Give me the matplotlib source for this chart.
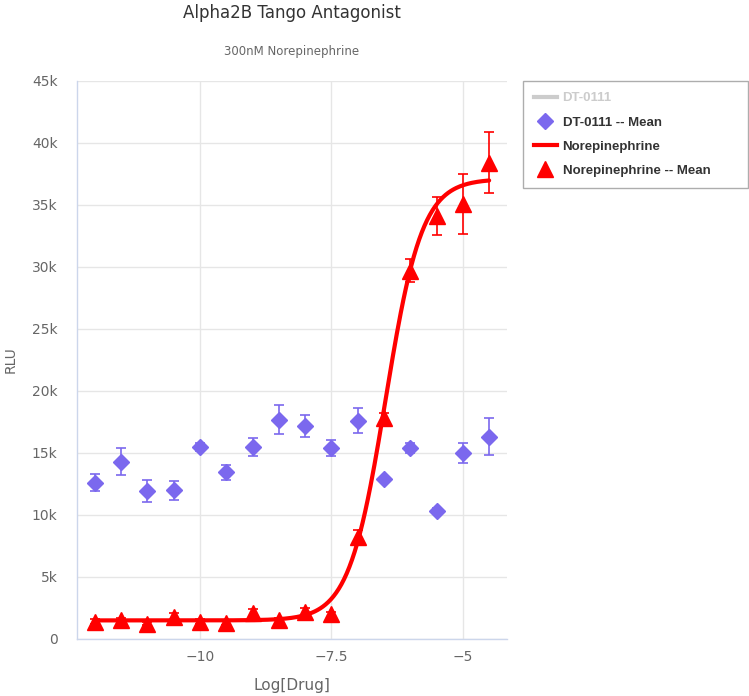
import numpy as np
import matplotlib.pyplot as plt
from matplotlib.lines import Line2D
from matplotlib.ticker import FuncFormatter

# data (RLU)
log_drug = [-12, -11.5, -11, -10.5, -10, -9.5, -9, -8.5,
            -8, -7.5, -7, -6.5, -6, -5.5, -5, -4.5]

dt_mean = [12600, 14300, 11950, 12000, 15500, 13450, 15500, 17700,
           17200, 15400, 17600, 12900, 15400, 10350, 15000, 16300]
dt_err = [700, 1100, 900, 750, 300, 600, 750, 1200,
          900, 650, 1000, 200, 400, 200, 800, 1500]

ne_mean = [1400, 1500, 1250, 1800, 1400, 1300, 2100, 1500,
           2200, 2000, 8200, 17800, 29700, 34100, 35100, 38400]
ne_err = [200, 200, 150, 300, 200, 200, 300, 200,
          300, 200, 600, 400, 950, 1550, 2400, 2450]

# fitted 4PL curve parameters for norepinephrine
ne_bottom = 1500
ne_top = 37100
ne_logec50 = -6.47
ne_hill = 1.25

purple = '#7B68EE'
red = '#FF0000'
grid_c = '#e6e6e6'
axis_c = '#ccd6eb'
text_c = '#666666'

fig = plt.figure(figsize=(7.49, 6.96), dpi=100)
ax = fig.add_axes([77/749, 57/696, 430/749, 558/696])

# DT-0111 mean points
ax.errorbar(log_drug, dt_mean, yerr=dt_err, fmt='D', color=purple, ms=7.8,
            mec=purple, elinewidth=1.2, capsize=3.5, capthick=1.2, zorder=3)

# Norepinephrine curve
xfit = np.linspace(min(log_drug), max(log_drug), 300)
yfit = ne_bottom + (ne_top - ne_bottom) / (1 + 10 ** ((ne_logec50 - xfit) * ne_hill))
ax.plot(xfit, yfit, color=red, lw=3, zorder=4, solid_capstyle='round')

# Norepinephrine mean points
ax.errorbar(log_drug, ne_mean, yerr=ne_err, fmt='^', color=red, ms=12,
            mec=red, elinewidth=1.2, capsize=3.5, capthick=1.2, zorder=5)

ax.set_xlim(-12.34, -4.16)
ax.set_ylim(0, 45000)
ax.set_xticks([-10, -7.5, -5])
ax.set_yticks(np.arange(0, 45001, 5000))
ax.xaxis.set_major_formatter(FuncFormatter(lambda v, p: f'{v:g}'.replace('-', '\u2212')))
ax.yaxis.set_major_formatter(FuncFormatter(lambda v, p: '0' if v == 0 else f'{int(v/1000)}k'))
ax.tick_params(length=0, colors=text_c, labelsize=10)
ax.tick_params(axis='y', pad=14)
ax.tick_params(axis='x', pad=8)
ax.grid(True, color=grid_c, lw=1)
ax.set_axisbelow(True)
for s in ['top', 'right']:
    ax.spines[s].set_visible(False)
for s in ['left', 'bottom']:
    ax.spines[s].set_color(axis_c)
    ax.spines[s].set_linewidth(1)

ax.set_xlabel('Log[Drug]', color=text_c, fontsize=11, labelpad=10)
ax.set_ylabel('RLU', color=text_c, fontsize=10, labelpad=10)

cx = (77 + 507) / 2 / 749
fig.text(cx, 1 - 13/696, 'Alpha2B Tango Antagonist', ha='center', va='center',
         fontsize=12, color='#333333')
fig.text(cx, 1 - 51/696, '300nM Norepinephrine', ha='center', va='center',
         fontsize=8.5, color=text_c)

handles = [
    Line2D([], [], color='#cccccc', lw=3),
    Line2D([], [], ls='none', marker='D', color=purple, ms=7.8),
    Line2D([], [], color=red, lw=3),
    Line2D([], [], ls='none', marker='^', color=red, ms=12),
]
labels = ['DT-0111', 'DT-0111 -- Mean', 'Norepinephrine', 'Norepinephrine -- Mean']
leg = fig.legend(handles, labels, loc='upper left',
                 bbox_to_anchor=(523/749, 1 - 81/696 - 0.01, 225/749, 0.01), mode='expand',
                 frameon=True, fancybox=False, edgecolor='#999999',
                 prop={'family': 'Liberation Sans', 'weight': 'bold', 'size': 9.5},
                 handlelength=1.7, handletextpad=0.45, labelspacing=0.9,
                 borderpad=0.85, borderaxespad=0)
leg.get_frame().set_linewidth(1)
for i, t in enumerate(leg.get_texts()):
    t.set_color('#cccccc' if i == 0 else '#333333')

fig.savefig('out.png', dpi=100)
